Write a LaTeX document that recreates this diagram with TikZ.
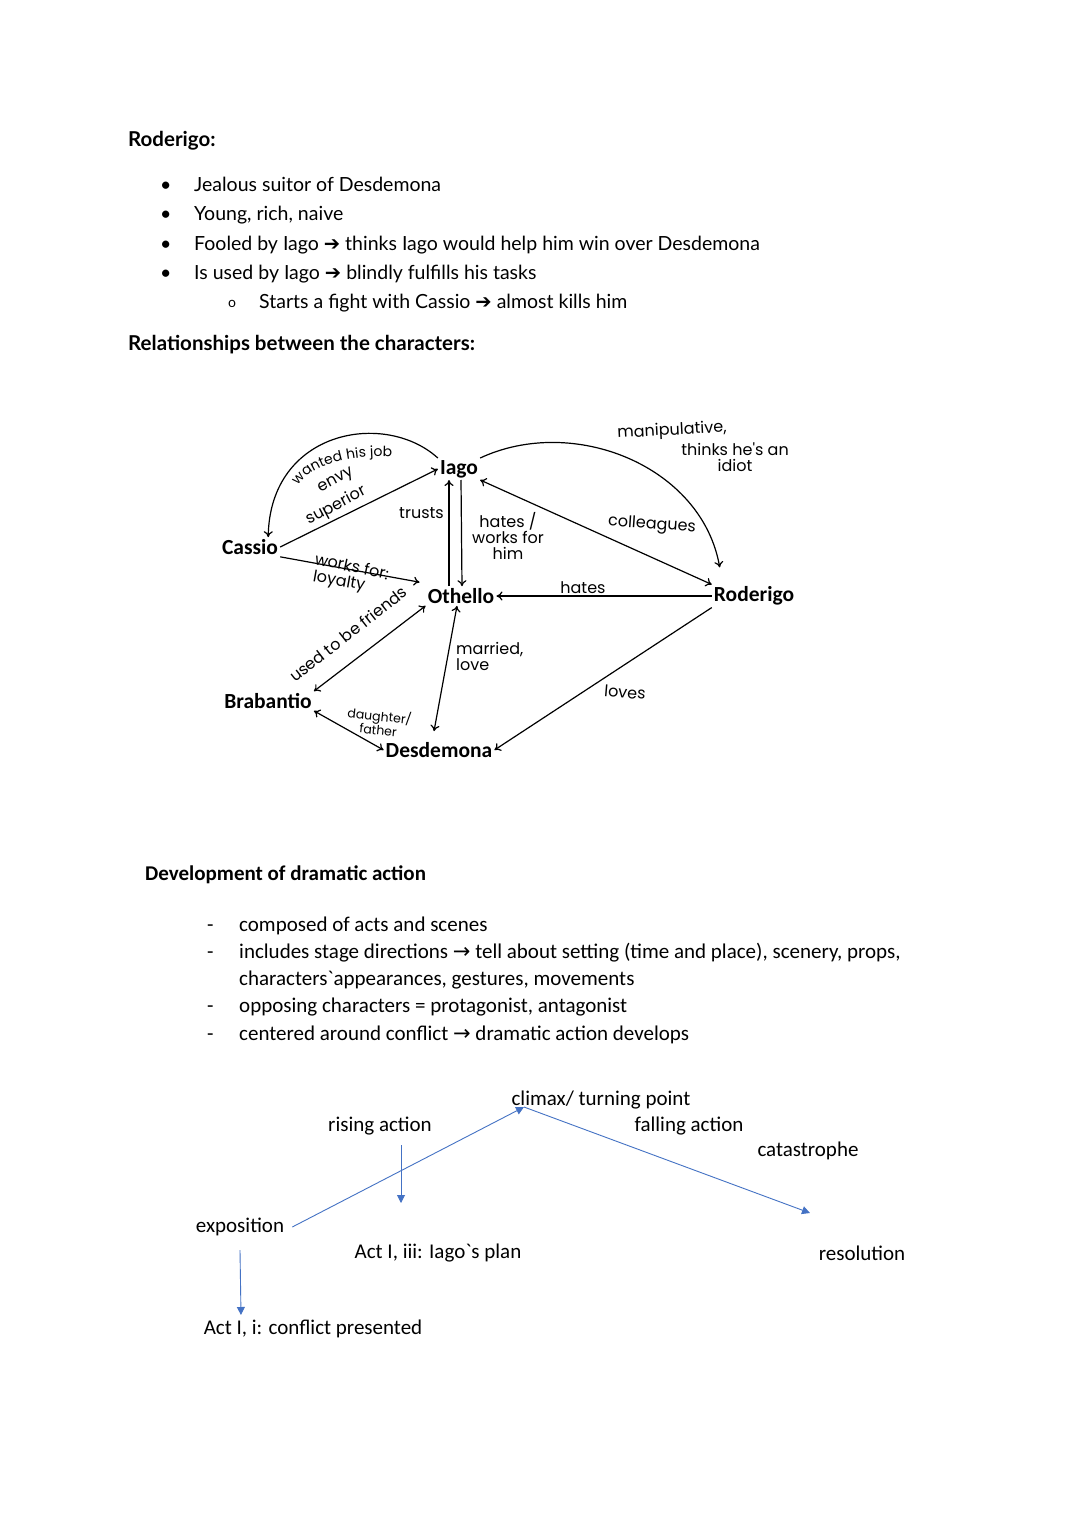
\documentclass[tikz,border=0pt]{standalone}
\usepackage{fontspec}
\setmainfont{Carlito}
\setmonofont{Carlito}
\newfontfamily\aptos{Lato}
\newfontfamily\handfont{Poppins}
\newfontfamily\arrowfont{DejaVu Sans}
\usetikzlibrary{arrows.meta, decorations.text}

\definecolor{plotblue}{HTML}{4472C4}

\tikzset{
  txt/.style={anchor=base west, inner sep=0pt, font=\aptos\fontsize{19.5}{23}\selectfont},
  head/.style={anchor=base west, inner sep=0pt, font=\aptos\bfseries\fontsize{20.5}{24}\selectfont},
  body/.style={anchor=base west, inner sep=0pt, font=\fontsize{21}{25}\selectfont},
  person/.style={inner sep=2pt, font=\bfseries\fontsize{21.5}{25}\selectfont},
  hand/.style={inner sep=1pt, font=\handfont\fontsize{16}{16}\selectfont},
  stage/.style={inner sep=0pt, font=\fontsize{21}{25}\selectfont},
  rel/.style={line width=1.2pt, -{To[length=6pt,width=9pt]}},
  relboth/.style={line width=1.2pt, {To[length=6pt,width=9pt]}-{To[length=6pt,width=9pt]}},
  blue arrow/.style={draw=plotblue, line width=0.9pt, -{Triangle[length=8pt,width=8pt]}},
}

\newcommand{\bigarrow}{{\arrowfont\char"2794}}
\newcommand{\thinarrow}{{\arrowfont\char"2192}}
\newcommand{\backtick}{{\ttfamily\char"60}}

\begin{document}
\begin{tikzpicture}[x=1pt, y=-1pt]
  \fill[white] (0,0) rectangle (1080,1527);
  \useasboundingbox (0,0) rectangle (1080,1527);

  % Roderigo
  \node[head] (rodhead) at (128,146) {Roderigo:};
  \node[txt] (dot1) at (160,191) {•};
  \node[txt] (dot2) at (160,220) {•};
  \node[txt] (dot3) at (160,250) {•};
  \node[txt] (dot4) at (160,279) {•};
  \node[txt] (pt1) at (194,191) {Jealous suitor of Desdemona};
  \node[txt] (pt2) at (194,220) {Young, rich, naive};
  \node[txt] (pt3) at (194,250) {Fooled by Iago \bigarrow{} thinks Iago would help him win over Desdemona};
  \node[txt] (pt4) at (194,279) {Is used by Iago \bigarrow{} blindly fulfills his tasks};
  \node[txt, font=\aptos\fontsize{14}{16}\selectfont] (ring) at (228,307) {o};
  \node[txt] (pt5) at (259,308) {Starts a fight with Cassio \bigarrow{} almost kills him};
  \node[head] (relhead) at (128,350) {Relationships between the characters:};

  % characters
  \node[person] (iago) at (459,469) {Iago};
  \node[person] (cassio) at (250,547) {Cassio};
  \node[person] (othello) at (461,596) {Othello};
  \node[person] (roderigo) at (754,596) {Roderigo};
  \node[person] (brabantio) at (268,701) {Brabantio};
  \node[person] (desdemona) at (439,750) {Desdemona};

  \draw[rel] (iago.north west) .. controls (385,410) and (270,430) .. ([xshift=-12]cassio.north east);
  \draw[rel] (cassio.east) -- (iago.west);
  \draw[rel] (cassio.south east) -- ([xshift=-6,yshift=4]othello.north west);
  \draw[rel] ([xshift=-12]othello.north) -- ([xshift=-10]iago.south);
  \draw[rel] ([xshift=2]iago.south) -- ([xshift=1]othello.north);
  \draw[relboth] (iago.south east) -- (roderigo.north west);
  \draw[rel] (iago.north east) to[out=25, in=100] ([xshift=8,yshift=17]roderigo.north west);
  \draw[rel] (roderigo.west) -- (othello.east);
  \draw[relboth] (brabantio.north east) -- (othello.south west);
  \draw[relboth] ([xshift=-4]othello.south) -- ([xshift=-5,yshift=9]desdemona.north);
  \draw[rel] (roderigo.south west) -- (desdemona.east);
  \draw[relboth] (brabantio.south east) -- (desdemona.west);

  % handwritten labels
  \path[decorate, decoration={text along path, text align=center,
    text={|\handfont\fontsize{14}{14}\selectfont|wanted his job}}]
    (291,500) .. controls (299,466) and (347,452) .. (408,458);
  \node[hand, rotate=28] (envyl) at (336,481) {envy};
  \node[hand, rotate=28] (supl) at (336,506) {superior};
  \node[hand, rotate=-12] (worksl) at (352,566) {works for:};
  \node[hand, rotate=-10] (loyl) at (339,582) {loyalty};
  \node[hand, anchor=east] (trustl) at (445,513) {trusts};
  \node[hand, align=center] (hatesl) at (508,536) {hates /\\works for\\him};
  \node[hand, rotate=-4] (collel) at (652,525) {colleagues};
  \node[hand, rotate=3] (manil) at (672,431) {manipulative,};
  \node[hand, align=center] (idiotl) at (735,457) {thinks he's an\\idiot};
  \node[hand] (hates2l) at (583,588) {hates};
  \node[hand, rotate=38] (friendl) at (348,634) {used to be friends};
  \node[hand, align=left, anchor=west] (marriedl) at (455,656) {married,\\love};
  \node[hand, rotate=-5] (lovesl) at (625,692) {loves};
  \node[hand, align=center, rotate=-6, font=\handfont\fontsize{12.5}{11.5}\selectfont] (daughl) at (379,722) {daughter/\\father};

  % dramatic action
  \node[body, font=\bfseries\fontsize{21}{25}\selectfont] (devhead) at (145,880) {Development of dramatic action};
  \node[body] (dash1) at (207,931) {-};
  \node[body] (dash2) at (207,958) {-};
  \node[body] (dash3) at (207,1012) {-};
  \node[body] (dash4) at (207,1040) {-};
  \node[body] (dv1) at (239,931) {composed of acts and scenes};
  \node[body] (dv2) at (239,958) {includes stage directions \thinarrow{} tell about setting (time and place), scenery, props,};
  \node[body] (dv2b) at (239,985) {characters\backtick appearances, gestures, movements};
  \node[body] (dv3) at (239,1012) {opposing characters = protagonist, antagonist};
  \node[body] (dv4) at (239,1040) {centered around conflict \thinarrow{} dramatic action develops};

  % plot line
  \node[stage] (climax) at (601,1100) {climax/ turning point};
  \node[stage] (rising) at (380,1126) {rising action};
  \node[stage] (falling) at (689,1126) {falling action};
  \node[stage] (catas) at (808,1151) {catastrophe};
  \node[stage] (exposition) at (240,1227) {exposition};
  \node[stage] (actiii) at (438,1253) {Act I, iii: Iago\backtick s plan};
  \node[stage] (resolution) at (862,1253) {resolution};
  \node[stage] (acti) at (313,1329) {Act I, i: conflict presented};

  \coordinate (peak) at (524,1107);
  \coordinate (fallend) at (810,1213);
  \coordinate (risestart) at ([xshift=21,yshift=-10]rising.south);
  \coordinate (riseend) at (401,1203);
  \coordinate (expoend) at (241,1315);

  \draw[blue arrow] ([xshift=8]exposition.east) -- (peak);
  \draw[blue arrow] (peak) -- (fallend);
  \draw[blue arrow] (risestart) -- (riseend);
  \draw[blue arrow] ([yshift=-14]exposition.south) -- (expoend);
\end{tikzpicture}
\end{document}
